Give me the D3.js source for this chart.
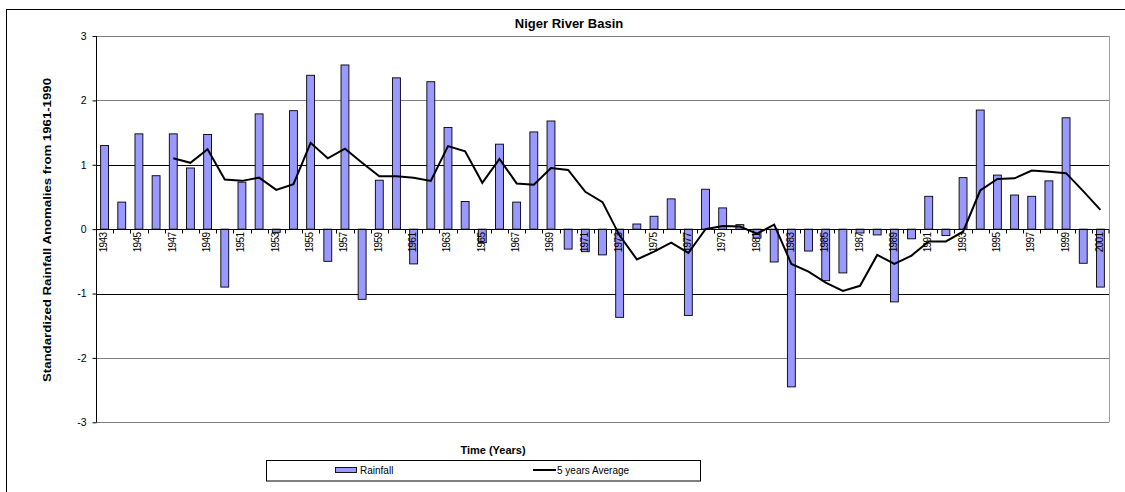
<!DOCTYPE html>
<html><head><meta charset="utf-8">
<script src="https://cdn.jsdelivr.net/npm/d3@7/dist/d3.min.js"></script>
<style>body{margin:0;background:#fff}svg{display:block;font-family:"Liberation Sans",Arial,sans-serif}</style>
</head><body><svg id="c" width="1125" height="492"></svg>
<script>
const years = d3.range(1943, 2002);
const rainfall = [1.30,0.42,1.48,0.83,1.48,0.95,1.47,-0.90,0.73,1.79,
  -0.05,1.84,2.39,-0.50,2.55,-1.09,0.76,2.35,-0.54,2.29,
  1.58,0.43,-0.21,1.32,0.42,1.51,1.68,-0.31,-0.35,-0.40,
  -1.37,0.08,0.20,0.47,-1.34,0.62,0.33,0.07,-0.14,-0.51,
  -2.45,-0.34,-0.80,-0.68,-0.06,-0.09,-1.13,-0.15,0.51,-0.10,
  0.80,1.85,0.84,0.53,0.51,0.75,1.73,-0.53,-0.90];
const avgYears = d3.range(1947, 2002);
const avg5 = [1.10,1.03,1.24,0.77,0.75,0.80,0.61,0.70,1.34,1.10,
  1.25,1.03,0.82,0.82,0.80,0.75,1.29,1.21,0.72,1.09,
  0.71,0.69,0.95,0.92,0.58,0.42,-0.10,-0.47,-0.35,-0.21,
  -0.37,0.00,0.05,0.04,-0.07,0.07,-0.54,-0.66,-0.83,-0.96,
  -0.88,-0.40,-0.54,-0.41,-0.19,-0.19,-0.04,0.60,0.78,0.79,
  0.91,0.89,0.87,0.59,0.30];
const yTicks = [-3,-2,-1,0,1,2,3];
const xLabelYears = years.filter(y => (y - 1943) % 2 === 0);

const svg = d3.select("#c");
const L = 96, R = 1109, T = 36, B = 422.3;
const x = d3.scaleBand().domain(years).range([L, R]).padding(0);
const y = d3.scaleLinear().domain([-3, 3]).range([B, T]);
const bw = x.bandwidth() * 0.46;

// outer border
svg.append("rect").attr("x", 6.5).attr("y", 9.5).attr("width", 1130).attr("height", 500)
  .attr("fill", "none").attr("stroke", "#000");

// gridlines
svg.append("g").selectAll("line").data(yTicks.filter(t => t !== 0)).join("line")
  .attr("x1", L).attr("x2", R)
  .attr("y1", d => Math.round(y(d)) + 0.5).attr("y2", d => Math.round(y(d)) + 0.5)
  .attr("stroke", d => Math.abs(d) === 1 ? "#000" : "#808080");
// right border
svg.append("line").attr("x1", R + 0.5).attr("x2", R + 0.5).attr("y1", T).attr("y2", B)
  .attr("stroke", "#a0a0a0");

// bars
svg.append("g").selectAll("rect").data(years).join("rect")
  .attr("x", (d) => x(d) + (x.bandwidth() - bw) / 2)
  .attr("width", bw)
  .attr("y", (d, i) => y(Math.max(0, rainfall[i])))
  .attr("height", (d, i) => Math.abs(y(rainfall[i]) - y(0)))
  .attr("fill", "#9999FF").attr("stroke", "#000").attr("stroke-width", 0.9);

// y axis
const ya = svg.append("g").attr("transform", `translate(${L + 0.5},0)`)
  .call(d3.axisLeft(y).tickValues(yTicks).tickSize(4).tickFormat(d => String(d)));
ya.selectAll("path,line").attr("stroke", "#000");
ya.select(".domain").attr("d", `M0,${T}V${B}`);
ya.selectAll("text").attr("font-size", 10.5).attr("fill", "#000").attr("x", -10)
  .attr("font-family", "Liberation Sans, Arial, sans-serif");

// x axis at zero
const y0 = Math.round(y(0)) + 0.5;
const xa = svg.append("g").attr("transform", `translate(0,${y0})`);
xa.append("line").attr("x1", L).attr("x2", R).attr("stroke", "#000");
xa.selectAll("line.tk").data(years.concat([2002])).join("line").attr("class", "tk")
  .attr("x1", d => d === 2002 ? R : Math.round(x(d)) + 0.5)
  .attr("x2", d => d === 2002 ? R : Math.round(x(d)) + 0.5)
  .attr("y1", 0).attr("y2", 4).attr("stroke", "#000");
xa.selectAll("text").data(xLabelYears).join("text")
  .attr("transform", d => `translate(${x(d) + x.bandwidth() / 2 - 1},3) rotate(-90)`)
  .attr("text-anchor", "end").attr("dy", "0.35em")
  .attr("font-size", 10).attr("letter-spacing", -0.6)
  .text(d => d);

// 5 year average line
const line = d3.line().x(d => x(d[0]) + x.bandwidth() / 2).y(d => y(d[1]));
svg.append("path").datum(avgYears.map((yr, i) => [yr, avg5[i]]))
  .attr("d", line).attr("fill", "none").attr("stroke", "#000").attr("stroke-width", 2);

// title
svg.append("text").attr("x", 569).attr("y", 28).attr("text-anchor", "middle")
  .attr("font-size", 13).attr("font-weight", "bold").text("Niger River Basin");

// y label
svg.append("text").attr("transform", "translate(51,230) rotate(-90)")
  .attr("text-anchor", "middle").attr("font-size", 11.5).attr("font-weight", "bold")
  .attr("textLength", 304).attr("lengthAdjust", "spacingAndGlyphs")
  .text("Standardized Rainfall Anomalies from 1961-1990");

// x label
svg.append("text").attr("x", 493).attr("y", 454).attr("text-anchor", "middle")
  .attr("font-size", 11).attr("font-weight", "bold").text("Time (Years)");

// legend
const lg = svg.append("g");
lg.append("rect").attr("x", 266.5).attr("y", 460.5).attr("width", 434).attr("height", 20.5)
  .attr("fill", "#fff").attr("stroke", "#000");
lg.append("rect").attr("x", 335.5).attr("y", 467.5).attr("width", 21).attr("height", 5)
  .attr("fill", "#9999FF").attr("stroke", "#000").attr("stroke-width", 0.9);
lg.append("text").attr("x", 360).attr("y", 474).attr("font-size", 10).text("Rainfall");
lg.append("line").attr("x1", 533).attr("x2", 556).attr("y1", 470).attr("y2", 470)
  .attr("stroke", "#000").attr("stroke-width", 2);
lg.append("text").attr("x", 557).attr("y", 474).attr("font-size", 10).text("5 years Average");
</script></body></html>
